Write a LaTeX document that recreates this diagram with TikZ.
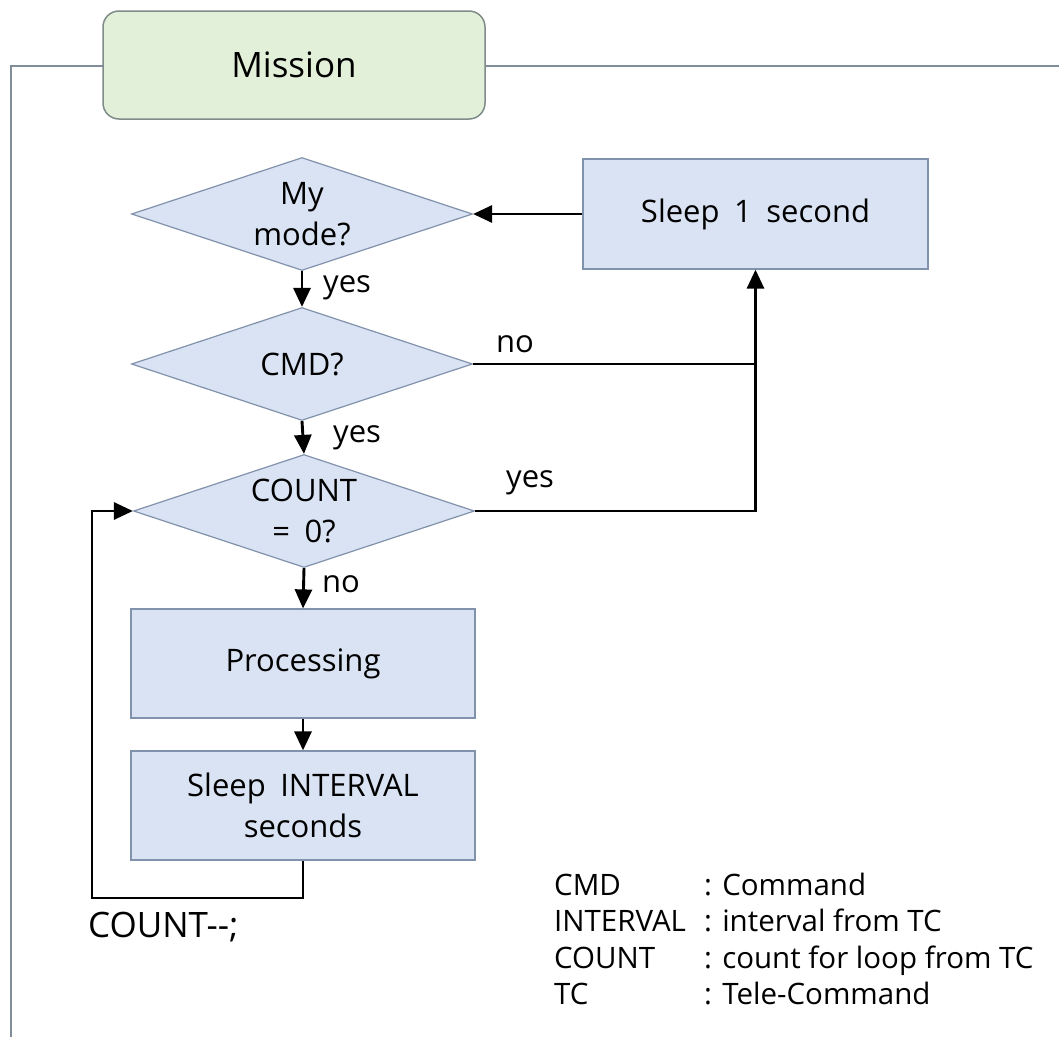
\documentclass[tikz,border=0pt]{standalone}
\usepackage{fontspec}
\setmainfont{Open Sans}[WordSpace=1.8]
\newfontfamily\legendfont{Open Sans}
\usetikzlibrary{shapes.geometric,arrows.meta}
\definecolor{boxfill}{RGB}{218,227,243}
\definecolor{boxline}{RGB}{128,146,172}
\definecolor{missfill}{RGB}{226,240,217}
\definecolor{missline}{RGB}{128,140,138}
\definecolor{frameline}{RGB}{128,140,152}
\begin{document}
\begin{tikzpicture}[x=1pt,y=-1pt,
  txt/.style={font=\fontsize{31}{41}\selectfont, align=center, text=black},
  procbox/.style={txt, draw=boxline, fill=boxfill, line width=1.2pt, minimum width=344pt, minimum height=109pt, inner sep=0pt},
  decision/.style={txt, diamond, draw=boxline, fill=boxfill, line width=1.2pt, aspect=3, minimum width=341pt, minimum height=113pt, inner sep=0pt},
  wire/.style={line width=2.9pt, black},
  flow/.style={wire, -{Triangle[length=19pt,width=17pt]}},
  lbl/.style={font=\fontsize{31}{37}\selectfont, inner sep=0pt, anchor=base west},
  legend/.style={font=\legendfont\fontsize{29.5}{35}\selectfont, inner sep=0pt, anchor=base west}
]
\useasboundingbox (0,0) rectangle (1059,1036);
\fill[white] (0,0) rectangle (1059,1036);

% frame and title
\draw[frameline, line width=1.8pt] (1065,66) -- (11,66) -- (11,1045);
\node[rounded corners=16pt, draw=missline, fill=missfill, line width=1.5pt,
      minimum width=382pt, minimum height=108pt, inner sep=0pt,
      font=\fontsize{35}{40}\selectfont] (mission) at (294,65) {Mission};

% nodes
\node[decision] (d1) at (302,214) {My\\mode?};
\node[decision] (d2) at (302,364) {CMD?};
\node[decision] (d3) at (304,511) {COUNT\\= 0?};
\node[procbox, minimum width=345pt, minimum height=110pt] (s1) at (755.5,214) {Sleep 1 second};
\node[procbox] (proc) at (303,663.5) {Processing};
\node[procbox] (si) at (303,805.5) {Sleep INTERVAL\\seconds};

% connectors
\draw[flow] (s1.west) -- (d1.east);
\draw[flow] (d1.south) -- (d2.north);
\draw[flow] (d2.south) -- (d3.north);
\draw[flow] (d3.south) -- (proc.north);
\draw[flow] (proc.south) -- (si.north);
\draw[wire] (d2.east) -- (d2.east -| s1.south);
\draw[flow] (d3.east) -| (s1.south);
\coordinate (c1) at (303,898);
\coordinate (c2) at (92,898);
\draw[flow] (si.south) -- (si.south |- c1) -- (c2) |- (d3.west);

% labels
\node[lbl] (y1) at (323,292) {yes};
\node[lbl] (y2) at (333,442) {yes};
\node[lbl] (n3) at (322,592) {no};
\node[lbl] (n2) at (496,352) {no};
\node[lbl] (y3) at (506,487) {yes};
\node[font=\fontsize{35}{40}\selectfont, inner sep=0pt, anchor=base west] (cnt) at (88,937) {COUNT-{}-;};

% legend
\node[legend] (l1a) at (554,895) {CMD};
\node[legend] (l1b) at (704,895) {: Command};
\node[legend] (l2a) at (554,931.5) {INTERVAL};
\node[legend] (l2b) at (704,931.5) {: interval from TC};
\node[legend] (l3a) at (554,968) {COUNT};
\node[legend] (l3b) at (704,968) {: count for loop from TC};
\node[legend] (l4a) at (554,1004.5) {TC};
\node[legend] (l4b) at (704,1004.5) {: Tele-Command};
\end{tikzpicture}
\end{document}
